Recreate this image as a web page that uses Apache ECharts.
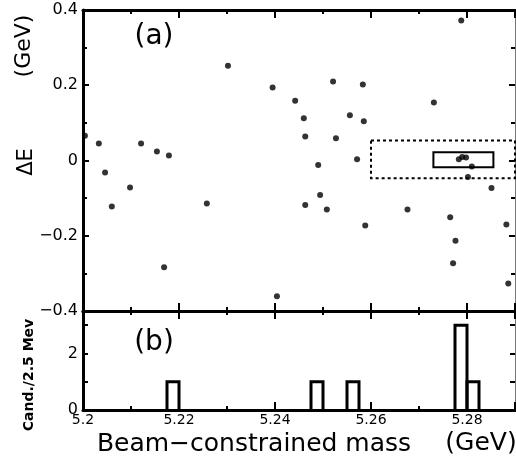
<!DOCTYPE html>
<html>
<head>
<meta charset="utf-8">
<script src="https://cdn.jsdelivr.net/npm/echarts@6/dist/echarts.min.js"></script>
<style>
  html, body { margin: 0; padding: 0; background: #fff; }
  #chart { width: 516px; height: 465px; }
</style>
</head>
<body>
<div id="chart"></div>
<script>
// Candidate beam-constrained mass (GeV) and energy difference ΔE (GeV)
const massValues = [
  5.2004, 5.2033, 5.2046, 5.2098, 5.2060, 5.2258, 5.2169, 5.2121, 5.2154, 5.2179,
  5.2302, 5.2788, 5.2395, 5.2521, 5.2583, 5.2442, 5.2731, 5.2460, 5.2556, 5.2585,
  5.2463, 5.2527, 5.2571, 5.2490, 5.2810, 5.2802, 5.2851, 5.2494, 5.2463, 5.2508,
  5.2676, 5.2765, 5.2882, 5.2588, 5.2776, 5.2771, 5.2886, 5.2404, 5.2783, 5.2790,
  5.2798
];
const deltaEValues = [
  0.066, 0.045, -0.032, -0.072, -0.122, -0.114, -0.284, 0.045, 0.024, 0.013,
  0.252, 0.372, 0.194, 0.210, 0.202, 0.159, 0.154, 0.112, 0.120, 0.104,
  0.064, 0.059, 0.003, -0.012, -0.016, -0.044, -0.073, -0.092, -0.118, -0.130,
  -0.130, -0.151, -0.170, -0.173, -0.213, -0.273, -0.327, -0.361, 0.003, 0.009,
  0.008
];

// Mass projection, 2.5 MeV bins (lower edge in GeV, candidates per bin)
const binStarts = [5.2175, 5.2475, 5.255, 5.2775, 5.28];
const binCounts = [1, 1, 1, 3, 1];
const binWidth = 0.0025;

// Signal and sideband regions in (mass, ΔE)
const signalMass = [5.273, 5.2855];
const signalDeltaE = [-0.018, 0.022];
const bandMass = [5.26, 5.29];
const bandDeltaE = [-0.047, 0.053];

// Tick labels
const massTicks = [5.2, 5.22, 5.24, 5.26, 5.28];
const massTickLabels = ['5.2', '5.22', '5.24', '5.26', '5.28'];
const deltaETicks = [-0.4, -0.2, 0, 0.2, 0.4];
const deltaETickLabels = ['\u22120.4', '\u22120.2', '0', '0.2', '0.4'];
const countTicks = [0, 2];
const countTickLabels = ['0', '2'];

const FONT = 'DejaVu Sans';
const INK = '#000';

function lookup(ticks, labels) {
  return function (v) {
    const i = ticks.findIndex(t => Math.abs(t - v) < 1e-6);
    return i >= 0 ? labels[i] : '';
  };
}

const massAxisBase = {
  type: 'value', min: 5.2, max: 5.29, interval: 0.02,
  axisLine: { show: true, onZero: false, lineStyle: { color: INK, width: 3 } },
  axisTick: { show: true, inside: true, length: 8, lineStyle: { color: INK, width: 2 } },
  minorTick: { show: true, splitNumber: 2, length: 4, lineStyle: { color: INK, width: 2 } },
  axisLabel: { show: false },
  splitLine: { show: false }
};

const chart = echarts.init(document.getElementById('chart'), null, { renderer: 'canvas' });

chart.setOption({
  animation: false,
  backgroundColor: '#fff',
  grid: [
    { left: 83, top: 10, width: 432, height: 301 },
    { left: 83, top: 311, width: 432, height: 99 }
  ],
  xAxis: [
    Object.assign({}, massAxisBase, { gridIndex: 0, position: 'bottom' }),
    Object.assign({}, massAxisBase, { gridIndex: 0, position: 'top' }),
    Object.assign({}, massAxisBase, { gridIndex: 1, position: 'top' }),
    Object.assign({}, massAxisBase, {
      gridIndex: 1, position: 'bottom',
      axisLabel: {
        show: true, color: INK, fontFamily: FONT, fontSize: 14, margin: 3,
        showMaxLabel: false, formatter: lookup(massTicks, massTickLabels)
      }
    })
  ],
  yAxis: [
    {
      type: 'value', gridIndex: 0, position: 'left', min: -0.4, max: 0.4, interval: 0.2,
      axisLine: { show: true, onZero: false, lineStyle: { color: INK, width: 3 } },
      axisTick: { show: true, inside: true, length: 6, lineStyle: { color: INK, width: 2 } },
      minorTick: { show: true, splitNumber: 2, length: 4, lineStyle: { color: INK, width: 2 } },
      axisLabel: { color: INK, fontFamily: FONT, fontSize: 16, margin: 5,
                   formatter: lookup(deltaETicks, deltaETickLabels) },
      splitLine: { show: false }
    },
    {
      type: 'value', gridIndex: 0, position: 'right', min: -0.4, max: 0.4, interval: 0.2,
      axisLine: { show: true, onZero: false, lineStyle: { color: '#777', width: 1 } },
      axisTick: { show: true, inside: true, length: 6, lineStyle: { color: INK, width: 2 } },
      minorTick: { show: true, splitNumber: 2, length: 4, lineStyle: { color: INK, width: 2 } },
      axisLabel: { show: false },
      splitLine: { show: false }
    },
    {
      type: 'value', gridIndex: 1, position: 'left', min: 0, max: 3.5, interval: 1,
      axisLine: { show: true, onZero: false, lineStyle: { color: INK, width: 3 } },
      axisTick: { show: true, inside: true, length: 5, lineStyle: { color: INK, width: 2 } },
      axisLabel: { color: INK, fontFamily: FONT, fontSize: 16, margin: 5, showMaxLabel: false,
                   formatter: lookup(countTicks, countTickLabels) },
      splitLine: { show: false }
    },
    {
      type: 'value', gridIndex: 1, position: 'right', min: 0, max: 3.5, interval: 1,
      axisLine: { show: true, onZero: false, lineStyle: { color: '#777', width: 1 } },
      axisTick: { show: true, inside: true, length: 5, lineStyle: { color: INK, width: 2 } },
      axisLabel: { show: false },
      splitLine: { show: false }
    }
  ],
  series: [
    {
      name: 'candidates',
      type: 'scatter',
      xAxisIndex: 0, yAxisIndex: 0,
      symbol: 'circle', symbolSize: 6,
      itemStyle: { color: INK },
      data: massValues.map((m, i) => [m, deltaEValues[i]]),
      markArea: {
        silent: true,
        data: [
          [
            { coord: [bandMass[0], bandDeltaE[1]],
              itemStyle: { color: 'rgba(0,0,0,0)', borderColor: INK, borderWidth: 2, borderType: [3, 3] } },
            { coord: [bandMass[1], bandDeltaE[0]] }
          ],
          [
            { coord: [signalMass[0], signalDeltaE[1]],
              itemStyle: { color: 'rgba(0,0,0,0)', borderColor: INK, borderWidth: 2, borderType: 'solid' } },
            { coord: [signalMass[1], signalDeltaE[0]] }
          ]
        ]
      }
    },
    {
      name: 'mass projection',
      type: 'custom',
      xAxisIndex: 3, yAxisIndex: 2,
      clip: false,
      data: binStarts.map((s, i) => [s, binCounts[i]]),
      renderItem: function (params, api) {
        const x0 = api.value(0);
        const n = api.value(1);
        const lo = api.coord([x0, 0]);
        const hi = api.coord([x0 + binWidth, n]);
        return {
          type: 'polyline',
          shape: { points: [[lo[0], lo[1]], [lo[0], hi[1]], [hi[0], hi[1]], [hi[0], lo[1]]] },
          style: { stroke: INK, lineWidth: 3, fill: null, lineJoin: 'miter' }
        };
      }
    }
  ],
  graphic: [
    { type: 'text', x: 154, y: 37,
      style: { text: '(a)', font: '28px "DejaVu Sans"', fill: INK, align: 'center', verticalAlign: 'middle' } },
    { type: 'text', x: 154, y: 343,
      style: { text: '(b)', font: '28px "DejaVu Sans"', fill: INK, align: 'center', verticalAlign: 'middle' } },
    { type: 'text', x: 24, y: 46, rotation: Math.PI / 2,
      style: { text: '(GeV)', font: '22px "DejaVu Sans"', fill: INK, align: 'center', verticalAlign: 'middle' } },
    { type: 'text', x: 27, y: 162, rotation: Math.PI / 2,
      style: { text: '\u0394E', font: '21px "DejaVu Sans"', fill: INK, align: 'center', verticalAlign: 'middle' } },
    { type: 'text', x: 29, y: 375, rotation: Math.PI / 2,
      style: { text: 'Cand./2.5 Mev', font: 'bold 14px "DejaVu Sans"', fill: INK, align: 'center', verticalAlign: 'middle' } },
    { type: 'text', x: 254, y: 444,
      style: { text: 'Beam\u2212constrained mass', font: '25px "DejaVu Sans"', fill: INK, align: 'center', verticalAlign: 'middle' } },
    { type: 'text', x: 481, y: 443,
      style: { text: '(GeV)', font: '25px "DejaVu Sans"', fill: INK, align: 'center', verticalAlign: 'middle' } }
  ]
});
</script>
</body>
</html>
